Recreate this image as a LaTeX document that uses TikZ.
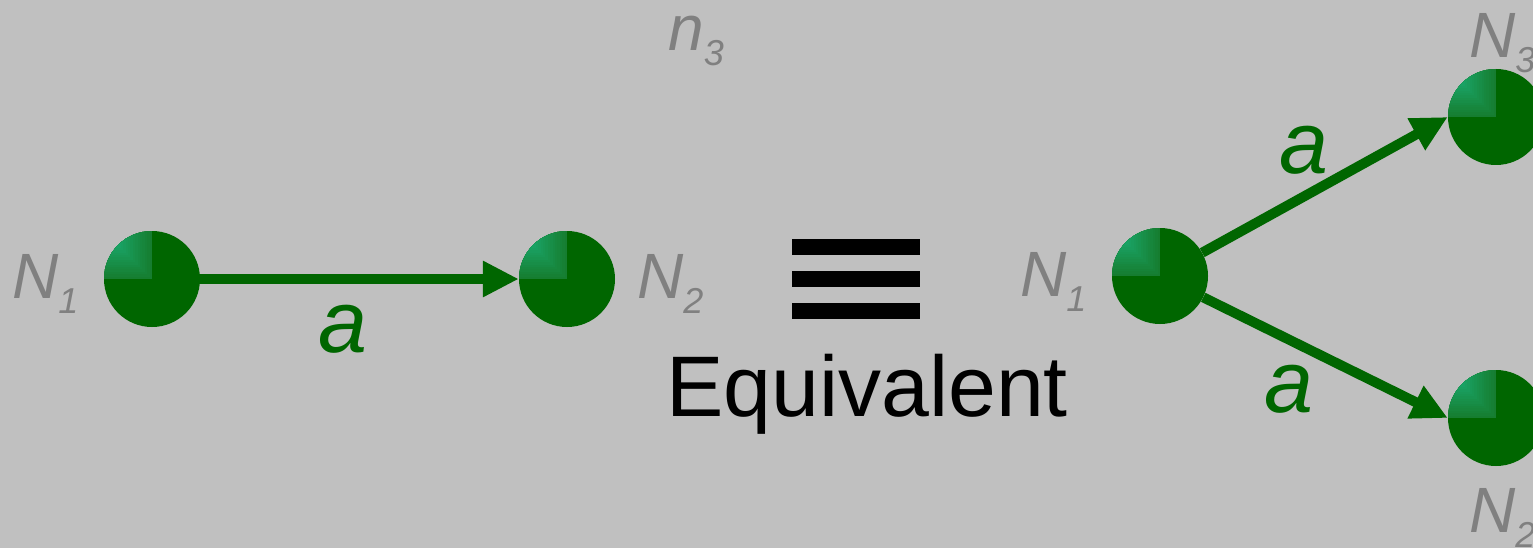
\documentclass[tikz,border=0pt]{standalone}
\usepackage{fontspec}
\setmainfont{Liberation Sans}
\usetikzlibrary{arrows.meta,calc}
\definecolor{bg}{RGB}{192,192,192}
\definecolor{ndark}{RGB}{0,102,0}
\definecolor{nmid}{RGB}{22,125,48}
\definecolor{nlight}{RGB}{26,168,108}
\definecolor{lbl}{RGB}{128,128,128}
\newcommand\subn[1]{\raisebox{-15pt}{\fontsize{36}{36}\selectfont #1}}
\tikzset{
 gnode/.style={circle, inner sep=0pt, minimum size=96pt, fill=ndark, path picture={
   \foreach \i in {0,...,19}{
     \pgfmathsetmacro\t{\i/20}
     \pgfmathtruncatemacro\p{min(100,100*\i/15)}
     \fill[nlight!\p!nmid] (path picture bounding box.north west) rectangle ($(path picture bounding box.center)!\t!(path picture bounding box.north west)$);
   }}},
 conn/.style={draw=ndark, line width=10pt, -{Triangle[length=36pt,width=34pt]}},
 lab/.style={text=lbl, font=\fontsize{64}{64}\selectfont\itshape, anchor=base west, inner sep=0pt},
 elab/.style={text=ndark, font=\fontsize{88}{88}\selectfont\itshape, anchor=base west, inner sep=0pt},
 eqtext/.style={text=black, font=\fontsize{86}{86}\selectfont, anchor=base west, inner sep=0pt},
}
\begin{document}
\begin{tikzpicture}[x=1pt,y=-1pt]
\fill[bg] (0,0) rectangle (1533,548);
\useasboundingbox (0,0) rectangle (1533,548);
% left
\node[gnode] (l1) at (152,279) {};
\node[gnode] (l2) at (567,279) {};
\draw[conn] (l1) -- (l2);
\node[lab] (l1lab) at (12,298) {N\subn{1}};
\node[lab] (l2lab) at (637,298) {N\subn{2}};
\node[lab] (n3lab) at (668,51) {n\subn{3}};
\node[elab] (la) at (318,352) {a};
% equivalence
\fill[black] (792,239) rectangle (920,255);
\fill[black] (792,271) rectangle (920,287);
\fill[black] (792,303) rectangle (920,319);
\node[eqtext] (eq) at (666,416) {Equivalent};
% right
\node[gnode] (r1) at (1160,276) {};
\node[gnode] (r3) at (1496,117) {};
\node[gnode] (r2) at (1496,418) {};
\draw[conn] (r1) -- (r3.west);
\draw[conn] (r1) -- (r2.west);
\node[lab] (r1lab) at (1020,296) {N\subn{1}};
\node[lab] (r3lab) at (1469,58) {N\subn{3}};
\node[lab] (r2lab) at (1469,532) {N\subn{2}};
\node[elab] (ra1) at (1279,174) {a};
\node[elab] (ra2) at (1264,412) {a};
\end{tikzpicture}
\end{document}
